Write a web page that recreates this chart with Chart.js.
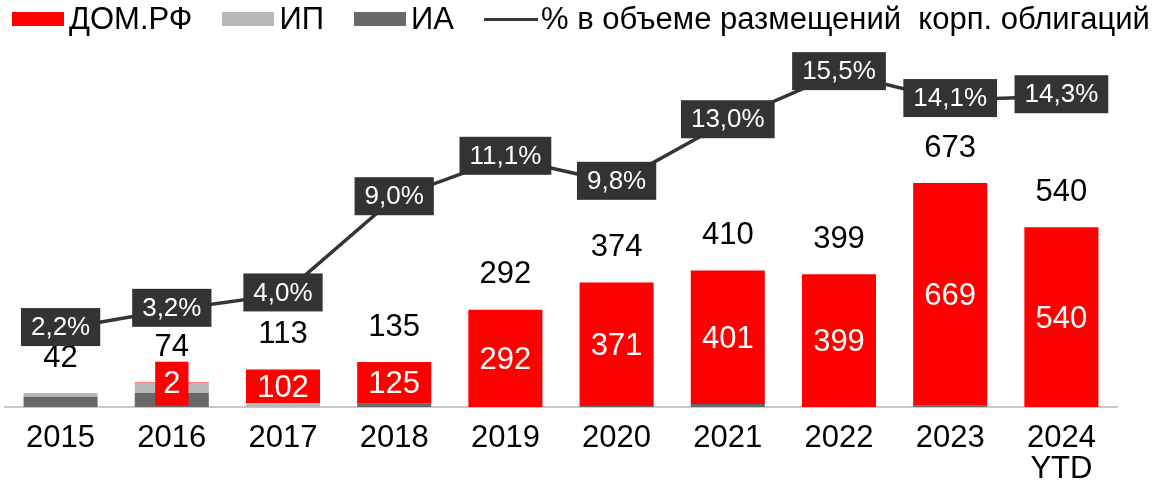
<!DOCTYPE html>
<html>
<head>
<meta charset="utf-8">
<script src="https://cdn.jsdelivr.net/npm/chart.js@4.4.1/dist/chart.umd.min.js"></script>
<style>
    body { margin: 0; background: #fff; }
    #wrap { position: relative; width: 1155px; height: 488px; }
    #legend {
        position: absolute; top: 1px; left: 12px;
        display: flex; align-items: center;
        font: 31px "Liberation Sans", Arial, sans-serif; line-height: 36px; color: #000;
        white-space: nowrap;
    }
    #legend .item { display: flex; align-items: center; margin-right: 30px; }
    #legend .box { width: 52px; height: 14px; margin-right: 5px; }
    #legend .line { width: 54px; height: 3px; margin-right: 3px; }
</style>
</head>
<body>
<div id="wrap">
    <div id="legend"></div>
    <canvas id="chart" width="1155" height="488"></canvas>
</div>
<script>
// --- DONNÉES ---
const years = ["2015", "2016", "2017", "2018", "2019", "2020", "2021", "2022", "2023", ["2024", "YTD"]];
const domRf = [0, 2, 102, 125, 292, 371, 401, 399, 669, 540];
const ip    = [11, 30, 11, 0, 0, 0, 0, 0, 0, 0];
const ia    = [31, 42, 0, 10, 0, 3, 9, 0, 4, 0];
const totals = [42, 74, 113, 135, 292, 374, 410, 399, 673, 540];
const sharePct = [2.2, 3.2, 4.0, 9.0, 11.1, 9.8, 13.0, 15.5, 14.1, 14.3];

const FONT = '"Liberation Sans", Arial, sans-serif';
const RED = "#ff0000";
const LIGHT = "#b8b8b8";
const DARK = "#686868";
const LINE = "#353535";

// --- LÉGENDE HTML ---
const legendItems = [
    { label: "ДОМ.РФ", color: RED, type: "box" },
    { label: "ИП", color: LIGHT, type: "box" },
    { label: "ИА", color: DARK, type: "box" },
    { label: "% в объеме размещений\u00a0 корп. облигаций", color: LINE, type: "line" }
];
const legend = document.getElementById("legend");
legendItems.forEach(it => {
    legend.innerHTML += `<div class="item"><span class="${it.type}" style="background:${it.color}"></span><span>${it.label}</span></div>`;
});

// --- ÉTIQUETTES ---
const DOM_INDEX = 3;
const labelPlugin = {
    id: "labels",
    afterDatasetsDraw(chart) {
        const ctx = chart.ctx;
        const xs = chart.scales.x, yb = chart.scales.y, yp = chart.scales.y1;
        ctx.save();
        ctx.textAlign = "center";
        ctx.textBaseline = "middle";

        // valeurs ДОМ.РФ dans les barres
        ctx.font = "31px " + FONT;
        chart.getDatasetMeta(DOM_INDEX).data.forEach((bar, i) => {
            const v = domRf[i];
            if (!v) return;
            const cy = (bar.y + bar.base) / 2;
            const w = ctx.measureText(String(v)).width;
            if (bar.base - bar.y < 20) {
                ctx.fillStyle = RED;
                ctx.fillRect(bar.x - w / 2 - 8, cy - 21, w + 16, 44);
            }
            ctx.fillStyle = "#fff";
            ctx.fillText(String(v), bar.x, cy + 2);
        });

        // totaux au-dessus
        ctx.fillStyle = "#000";
        totals.forEach((t, i) => {
            ctx.fillText(String(t), xs.getPixelForValue(i), yb.getPixelForValue(t) - 35);
        });

        // pourcentages
        ctx.font = "26px " + FONT;
        sharePct.forEach((p, i) => {
            const txt = p.toFixed(1).replace(".", ",") + "%";
            const w = ctx.measureText(txt).width;
            const cx = xs.getPixelForValue(i);
            const cy = yp.getPixelForValue(p) - 2;
            ctx.fillStyle = "#333333";
            ctx.fillRect(cx - w / 2 - 10, cy - 19, w + 20, 38);
            ctx.fillStyle = "#fff";
            ctx.fillText(txt, cx, cy + 1);
        });
        ctx.restore();
    }
};

new Chart(document.getElementById("chart"), {
    type: "bar",
    data: {
        labels: years,
        datasets: [
            { label: "% в объеме размещений корп. облигаций", type: "line", data: sharePct, yAxisID: "y1",
              borderColor: LINE, borderWidth: 3.5, pointRadius: 0, tension: 0, order: 0 },
            { label: "ИА", data: ia, backgroundColor: DARK, yAxisID: "y", order: 1 },
            { label: "ИП", data: ip, backgroundColor: LIGHT, yAxisID: "y", order: 1 },
            { label: "ДОМ.РФ", data: domRf, backgroundColor: RED, yAxisID: "y", order: 1 }
        ]
    },
    options: {
        responsive: false,
        animation: false,
        devicePixelRatio: 1,
        datasets: { bar: { barPercentage: 0.666, categoryPercentage: 1, stack: "s" } },
        layout: { padding: { left: 5, right: 38, top: 56, bottom: 0 } },
        plugins: { legend: { display: false }, tooltip: { enabled: false } },
        scales: {
            x: {
                stacked: true,
                grid: { display: false, drawTicks: false },
                border: { display: true, color: "#c8c8c8", width: 2 },
                ticks: { color: "#000", font: { size: 31, family: FONT, lineHeight: 1.0 }, padding: 16,
                         maxRotation: 0, autoSkip: false },
                afterFit(s) { s.height = 81; }
            },
            y: { display: false, stacked: true, min: 0, max: 1055 },
            y1: { display: false, min: -1.85, max: 16.39 }
        }
    },
    plugins: [labelPlugin]
});
</script>
</body>
</html>
